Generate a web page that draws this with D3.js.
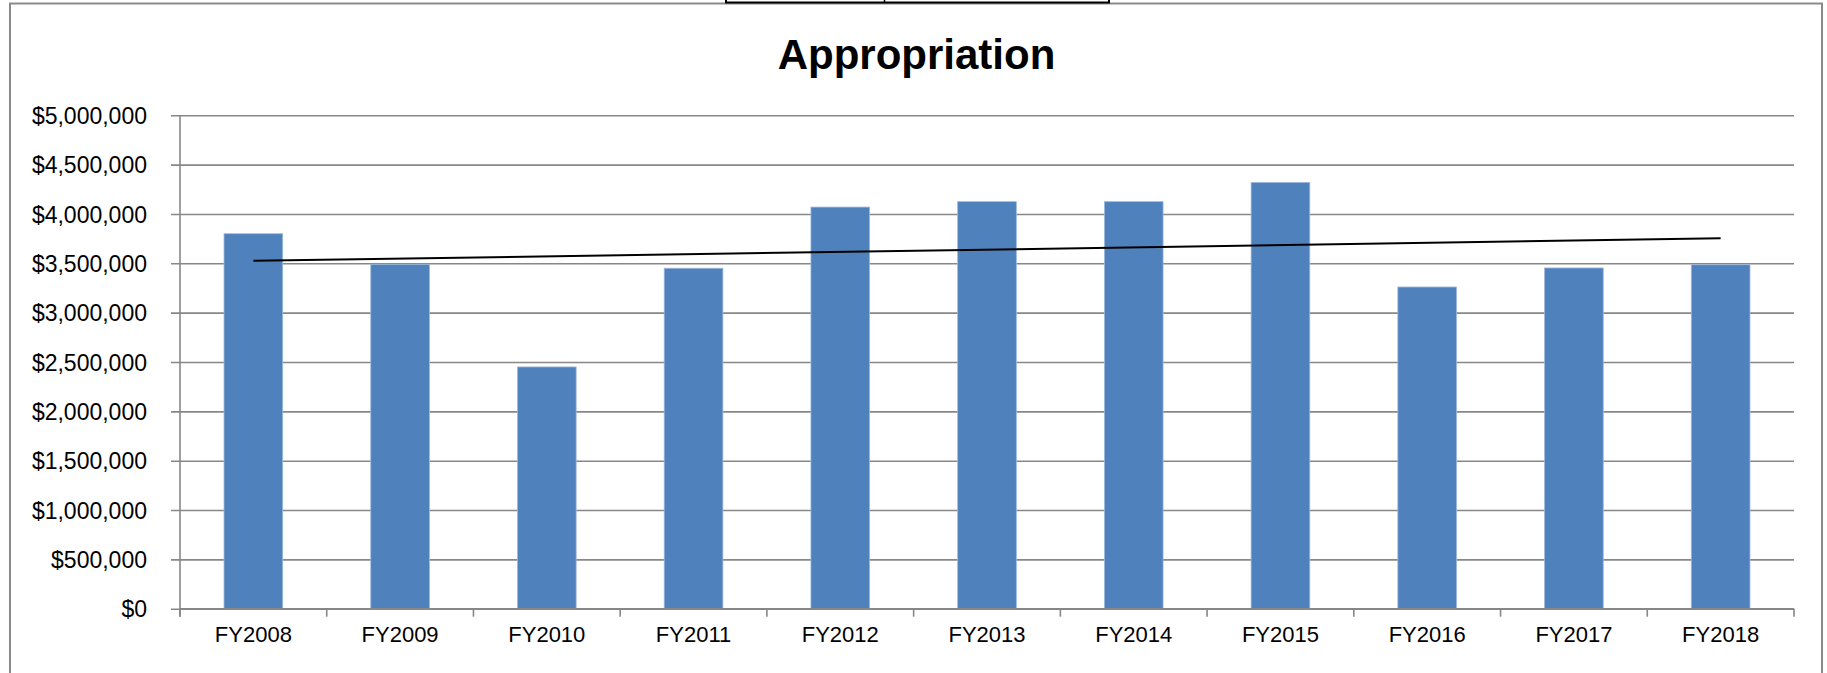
<!DOCTYPE html>
<html>
<head>
<meta charset="utf-8">
<script src="https://cdn.jsdelivr.net/npm/d3@7"></script>
<style>
  body { margin: 0; background: #fff; }
  svg { display: block; font-family: "Liberation Sans", Arial, sans-serif; }
</style>
</head>
<body>
<div id="chart"></div>
<script>
// Chart data
const years = ["FY2008", "FY2009", "FY2010", "FY2011", "FY2012", "FY2013", "FY2014", "FY2015", "FY2016", "FY2017", "FY2018"];
const appropriation = [3800000, 3490000, 2450000, 3450000, 4070000, 4125000, 4125000, 4320000, 3260000, 3453000, 3486000];
const yTicks = [0, 500000, 1000000, 1500000, 2000000, 2500000, 3000000, 3500000, 4000000, 4500000, 5000000];

const W = 1827, H = 673;
const plot = { left: 180, right: 1794, top: 115.3, bottom: 608.7 };

const svg = d3.select("#chart")
  .append("svg")
    .attr("width", W)
    .attr("height", H);

// outer chart frame
svg.append("rect")
  .attr("x", 10).attr("y", 3.5)
  .attr("width", 1812).attr("height", 720)
  .attr("fill", "none")
  .attr("stroke", "#8a8a8a")
  .attr("stroke-width", 2);

// bit of a table border peeking in at the top
svg.append("rect")
  .attr("x", 726).attr("y", -10)
  .attr("width", 383).attr("height", 12.5)
  .attr("fill", "none")
  .attr("stroke", "#000")
  .attr("stroke-width", 2);
svg.append("line")
  .attr("x1", 884.5).attr("x2", 884.5)
  .attr("y1", -10).attr("y2", 2.5)
  .attr("stroke", "#000")
  .attr("stroke-width", 1.5);

// title
svg.append("text")
  .attr("x", 916.5)
  .attr("y", 69)
  .attr("text-anchor", "middle")
  .attr("font-weight", "bold")
  .attr("font-size", 42)
  .attr("fill", "#000")
  .text("Appropriation");

// scales
const x = d3.scaleBand()
  .domain(years)
  .range([plot.left, plot.right])
  .paddingInner(0.6)
  .paddingOuter(0.3);

const y = d3.scaleLinear()
  .domain([0, 5000000])
  .range([plot.bottom, plot.top]);

// gridlines + y axis
const yAxis = d3.axisLeft(y)
  .tickValues(yTicks)
  .tickSize(-(plot.right - plot.left))
  .tickPadding(24)
  .tickFormat(d => "$" + d3.format(",")(d));

const gy = svg.append("g")
  .attr("transform", `translate(${plot.left},0)`)
  .call(yAxis);
gy.select(".domain").remove();
gy.selectAll(".tick line")
  .attr("x1", -9)
  .attr("stroke", "#878787")
  .attr("stroke-width", 1.6);
gy.selectAll(".tick text")
  .attr("x", -33)
  .attr("dy", "0.36em")
  .attr("font-size", 23)
  .attr("fill", "#000");

// bars
svg.append("g")
  .selectAll("rect")
  .data(years.map((yr, i) => ({ yr, v: appropriation[i] })))
  .enter().append("rect")
    .attr("x", d => x(d.yr))
    .attr("y", d => y(d.v))
    .attr("width", x.bandwidth())
    .attr("height", d => y(0) - y(d.v))
    .attr("fill", "#4f81bd")
    .attr("stroke", "#9fb9dc")
    .attr("stroke-width", 0.8);

// y axis line
svg.append("line")
  .attr("x1", plot.left).attr("x2", plot.left)
  .attr("y1", plot.top).attr("y2", plot.bottom + 8)
  .attr("stroke", "#878787")
  .attr("stroke-width", 1.6);

// x axis with ticks between categories
const gx = svg.append("g")
  .attr("transform", `translate(0,${plot.bottom})`);
gx.append("line")
  .attr("x1", plot.left).attr("x2", plot.right)
  .attr("stroke", "#878787")
  .attr("stroke-width", 1.6);
const step = x.step();
gx.selectAll(".sep")
  .data(d3.range(years.length + 1))
  .enter().append("line")
    .attr("class", "sep")
    .attr("x1", i => plot.left + i * step)
    .attr("x2", i => plot.left + i * step)
    .attr("y1", 0).attr("y2", 8)
    .attr("stroke", "#878787")
    .attr("stroke-width", 1.6);
gx.selectAll(".lbl")
  .data(years)
  .enter().append("text")
    .attr("class", "lbl")
    .attr("x", d => x(d) + x.bandwidth() / 2)
    .attr("y", 33)
    .attr("text-anchor", "middle")
    .attr("font-size", 22)
    .attr("fill", "#000")
    .text(d => d);

// linear trendline (least squares fit, like Excel's)
const n = appropriation.length;
const mx = d3.mean(d3.range(n));
const my = d3.mean(appropriation);
const slope = d3.sum(appropriation, (v, i) => (i - mx) * (v - my)) / d3.sum(d3.range(n), i => (i - mx) ** 2);
const icpt = my - slope * mx;

svg.append("line")
  .attr("x1", x(years[0]) + x.bandwidth() / 2)
  .attr("y1", y(icpt))
  .attr("x2", x(years[n - 1]) + x.bandwidth() / 2)
  .attr("y2", y(icpt + slope * (n - 1)))
  .attr("stroke", "#000")
  .attr("stroke-width", 2);
</script>
</body>
</html>
